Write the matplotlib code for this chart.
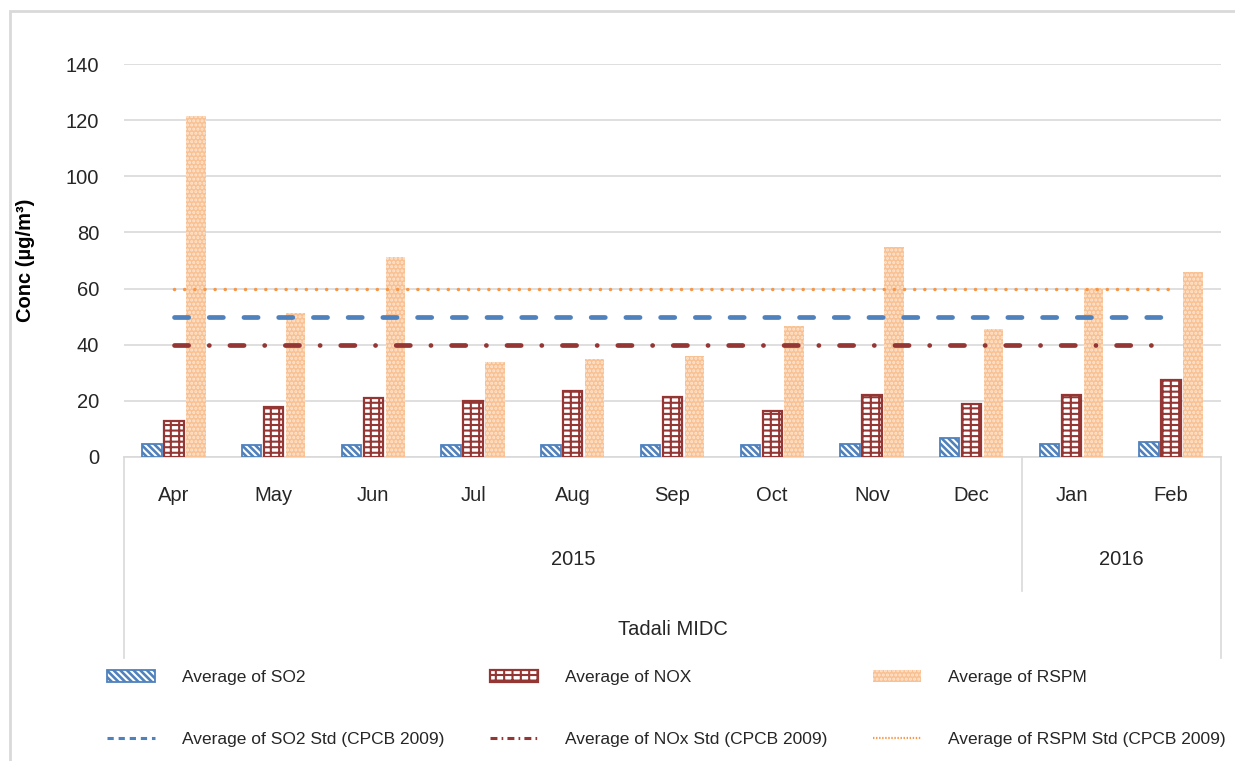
import matplotlib
matplotlib.use("Agg")
import matplotlib.pyplot as plt
from matplotlib.patches import Rectangle
from matplotlib.lines import Line2D
import numpy as np

plt.rcParams['font.family'] = ['Liberation Sans', 'DejaVu Sans']
plt.rcParams['hatch.linewidth'] = 1.5
plt.rcParams['lines.scale_dashes'] = False

months = ['Apr', 'May', 'Jun', 'Jul', 'Aug', 'Sep', 'Oct', 'Nov', 'Dec', 'Jan', 'Feb']
years = ['2015', '2016']
year_counts = [9, 2]
site = 'Tadali MIDC'

so2 = [4.6, 4.2, 4.2, 4.2, 4.2, 4.2, 4.2, 4.6, 6.8, 4.5, 5.2]
nox = [12.8, 17.9, 21.0, 20.0, 23.4, 21.4, 16.4, 22.0, 18.9, 22.0, 27.4]
rspm = [121.6, 51.4, 71.3, 33.9, 34.9, 35.9, 46.7, 74.7, 45.6, 60.2, 65.9]

so2_std = [50, 50, 50, 50, 50, 50, 50, 50, 50, 50, 50]
nox_std = [40, 40, 40, 40, 40, 40, 40, 40, 40, 40, 40]
rspm_std = [60, 60, 60, 60, 60, 60, 60, 60, 60, 60, 60]

BLUE = '#4F81BD'
RED = '#943634'
PEACH = '#F9C091'
ORANGE = '#F79646'
GRID = '#D9D9D9'
TXT = '#262626'

W, H = 1235, 761
fig = plt.figure(figsize=(W / 100, H / 100), dpi=100)
ax = fig.add_axes([124 / W, 1 - 457 / H, (1221 - 124) / W, 393 / H])

x = np.arange(len(months))
bw = 0.195
step = 0.22

# SO2: white diagonal hatch on blue, with a blue outline drawn on top
so2_fill = ax.bar(x - step, so2, bw, color=BLUE, edgecolor='white', hatch='\\\\\\\\\\', linewidth=0, zorder=3)
so2_edge = ax.bar(x - step, so2, bw, fill=False, edgecolor=BLUE, linewidth=1.3, zorder=4)
# NOx: brick-like grid
nox_bars = ax.bar(x, nox, bw, color='white', edgecolor=RED, hatch='---||', linewidth=1.6, zorder=3)
# RSPM: stippled peach
rspm_bars = ax.bar(x + step, rspm, bw, color=PEACH, edgecolor='#FDE6D2', hatch='....', linewidth=0, zorder=3)

ax.plot(x, so2_std, color=BLUE, lw=3.4, dashes=(10.2, 14.8), dash_capstyle='round', zorder=5)
ax.plot(x, nox_std, color=RED, lw=3.4, dashes=(10.2, 14.8, 0.1, 14.8), dash_capstyle='round', zorder=5)
ax.plot(x, rspm_std, color=ORANGE, lw=2.5, dashes=(0.1, 7.2), dash_capstyle='round', zorder=5)

ax.set_xlim(-0.5, len(months) - 0.5)
ax.set_ylim(0, 140)
ax.set_yticks(range(0, 141, 20))
ax.yaxis.grid(True, color=GRID, lw=1.2)
ax.set_axisbelow(True)
for side in ['top', 'right', 'left']:
    ax.spines[side].set_visible(False)
ax.spines['bottom'].set_color(GRID)
ax.spines['bottom'].set_linewidth(1.2)
ax.tick_params(axis='y', length=0, pad=18, labelsize=14.5, labelcolor=TXT)
ax.set_xticks([])

ax.set_ylabel('Conc (µg/m³)', fontsize=14.5, fontweight='bold', color='black')
ax.yaxis.set_label_coords(-0.081, 0.5)

# multi-level category axis under the plot
tr = ax.get_xaxis_transform()
for i, m in enumerate(months):
    ax.text(i, -0.097, m, transform=tr, ha='center', va='center', fontsize=14.5, color=TXT)
start = -0.5
for yr, n in zip(years, year_counts):
    ax.text(start + n / 2, -0.262, yr, transform=tr, ha='center', va='center', fontsize=14.5, color=TXT)
    start += n
ax.text((len(months) - 1) / 2, -0.44, site, transform=tr, ha='center', va='center', fontsize=14.5, color=TXT)
ax.plot([-0.5, -0.5], [0, -0.511], transform=tr, color=GRID, lw=1.2, clip_on=False)
ax.plot([len(months) - 0.5] * 2, [0, -0.511], transform=tr, color=GRID, lw=1.2, clip_on=False)
ax.plot([year_counts[0] - 0.5] * 2, [0, -0.341], transform=tr, color=GRID, lw=1.2, clip_on=False)

# chart border
fig.patches.append(Rectangle((10 / W, -0.1), 1.2, 1.1 - 11 / H, transform=fig.transFigure,
                             fill=False, edgecolor=GRID, lw=2))

# legend keys for the standard lines use a finer pattern
key_so2 = Line2D([], [], color=BLUE, lw=2.2, dashes=(4.5, 3.5))
key_nox = Line2D([], [], color=RED, lw=2.2, dashes=(5, 3, 1.2, 3))
key_rspm = Line2D([], [], color=ORANGE, lw=1.6, dashes=(1.0, 1.2))

handles = [
    (so2_fill[0], so2_edge[0]), key_so2,
    nox_bars[0], key_nox,
    rspm_bars[0], key_rspm,
]
labels = [
    'Average of SO2', 'Average of SO2 Std (CPCB 2009)',
    'Average of NOX', 'Average of NOx Std (CPCB 2009)',
    'Average of RSPM', 'Average of RSPM Std (CPCB 2009)',
]
fig.legend(handles, labels, ncol=3, loc='upper left', bbox_to_anchor=(107 / W, 1 - 670 / H),
           frameon=False, fontsize=12.5, handlelength=2.76, handleheight=0.7,
           handletextpad=1.55, columnspacing=2.64, labelspacing=2.68, borderpad=0,
           borderaxespad=0, labelcolor=TXT)

fig.savefig('out.png', dpi=100)
